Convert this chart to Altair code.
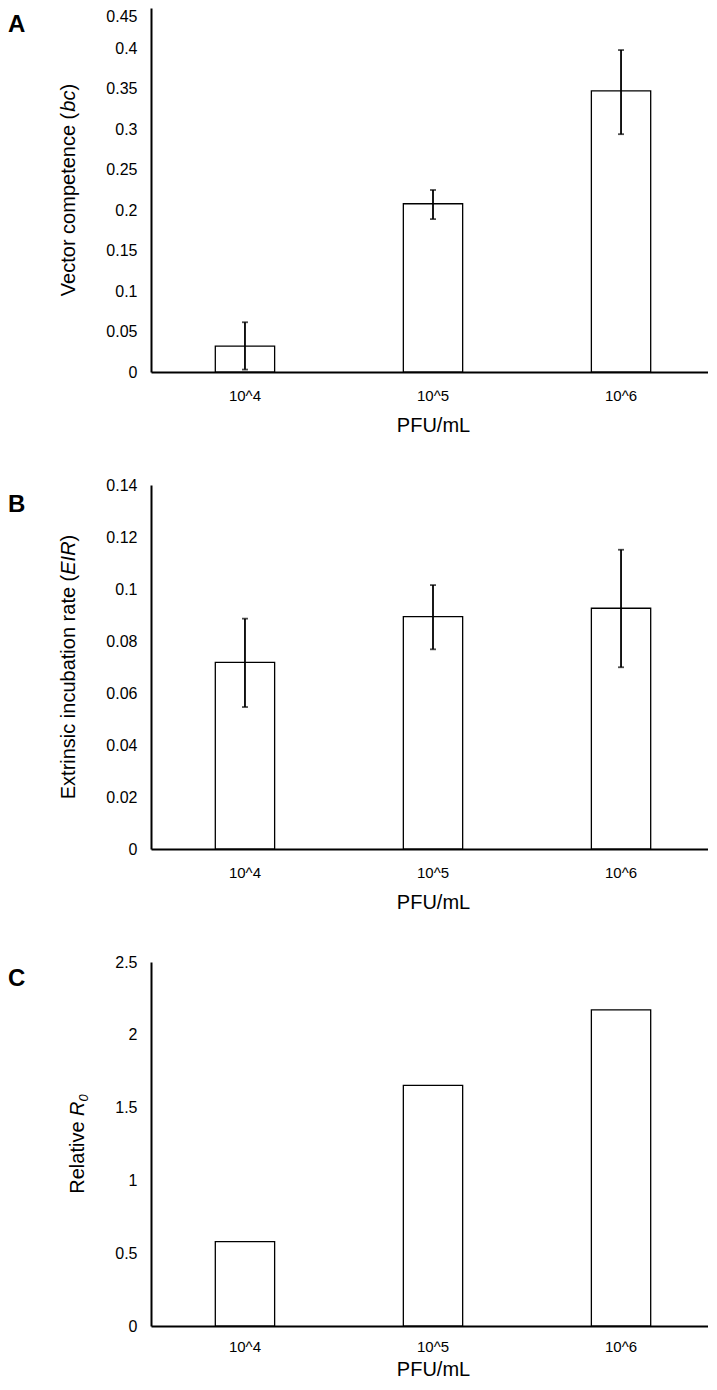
import altair as alt
import pandas as pd

panels = ["A", "B", "C"]
doses = ["10^4", "10^5", "10^6"]

vc_mean = [0.032, 0.208, 0.3475]
vc_lo = [0.003, 0.189, 0.294]
vc_hi = [0.0615, 0.225, 0.398]

eir_mean = [0.0718, 0.0894, 0.0926]
eir_lo = [0.0546, 0.0768, 0.0699]
eir_hi = [0.0886, 0.1015, 0.1151]

r0_rel = [0.579, 1.652, 2.171]

vc_ticks = [0, 0.05, 0.1, 0.15, 0.2, 0.25, 0.3, 0.35, 0.4, 0.45]
eir_ticks = [0, 0.02, 0.04, 0.06, 0.08, 0.1, 0.12, 0.14]
r0_ticks = [0, 0.5, 1, 1.5, 2, 2.5]

# y-axis titles, split into (text, italic, font size) pieces
title_a = [("Vector competence (", False, 20), ("bc", True, 20), (")", False, 20)]
title_b = [("Extrinsic incubation rate (", False, 20), ("EIR", True, 20), (")", False, 20)]
title_c = [("Relative ", False, 20), ("R", True, 20), ("0", True, 13)]
x_title = "PFU/mL"

FONT = "Liberation Sans"
W, H = 564, 364

# Arial / Liberation Sans advance widths (per 1000 em)
ADV = {"V": 667, "e": 556, "c": 500, "t": 278, "o": 556, "r": 333, " ": 278, "m": 833,
       "p": 556, "n": 556, "(": 333, ")": 333, "b": 556, "E": 667, "x": 500, "i": 222,
       "s": 500, "u": 556, "a": 556, "I": 278, "R": 722, "l": 222, "v": 500, "0": 556}


def text_width(s, size):
    return sum(ADV.get(ch, 556) for ch in s) * size / 1000.0


def ytitle_layer(pieces, base_x):
    total = sum(text_width(s, fs) for s, _, fs in pieces)
    ypos = H / 2 + total / 2
    layers = []
    for s, ital, fs in pieces:
        bx = base_x
        if fs < 20:
            bx = base_x + 4  # subscript drops below the baseline
        t = alt.Chart(pd.DataFrame({"t": [s]})).mark_text(
            align="left", baseline="alphabetic", angle=270, fontSize=fs,
            fontStyle="italic" if ital else "normal", font=FONT, color="black"
        ).encode(text="t:N", x=alt.value(bx), y=alt.value(ypos))
        layers.append(t)
        ypos -= text_width(s, fs)
    return layers


def panel(letter, mean, lo, hi, ticks, tpieces, title_x, letter_y, xlp, xtp, anchor=False):
    df = pd.DataFrame({"dose": doses, "mean": mean})
    if lo is not None:
        df["lo"] = lo
        df["hi"] = hi
    top = ticks[-1]
    yscale = alt.Scale(domain=[ticks[0], top], nice=False, zero=True)
    xaxis = alt.Axis(title=x_title, labelAngle=0, labelFontSize=15, labelPadding=xlp,
                     ticks=False, tickSize=0, titleFontSize=20, titlePadding=xtp,
                     titleFontWeight="normal", domainColor="black", domainWidth=2,
                     labelColor="black", titleColor="black", labelFont=FONT, titleFont=FONT,
                     grid=False)
    yaxis = alt.Axis(values=ticks, format="~g", title=None, labelFontSize=16,
                     labelPadding=14, ticks=False, tickSize=0, grid=False,
                     domainColor="black", domainWidth=2, labelColor="black",
                     labelFont=FONT,
                     labelBaseline=alt.condition(f"datum.value == {top}",
                                                 alt.value("top"), alt.value("middle"))
                     if anchor else "middle")
    scl = alt.Scale(paddingInner=0.6845, paddingOuter=0.342)
    x = alt.X("dose:N", sort=doses, scale=scl, axis=xaxis)
    base = alt.Chart(df)
    bars = base.mark_bar(fill="white", stroke="black", strokeWidth=1.3).encode(
        x=x, y=alt.Y("mean:Q", scale=yscale, axis=yaxis))
    layers = [bars]
    if lo is not None:
        rule = base.mark_rule(color="black", strokeWidth=1.8).encode(
            x=x, y=alt.Y("lo:Q", scale=yscale, axis=yaxis), y2="hi:Q")
        cap_lo = base.mark_tick(color="black", thickness=1.8, size=6).encode(
            x=x, y=alt.Y("lo:Q", scale=yscale, axis=yaxis))
        cap_hi = base.mark_tick(color="black", thickness=1.8, size=6).encode(
            x=x, y=alt.Y("hi:Q", scale=yscale, axis=yaxis))
        layers += [rule, cap_lo, cap_hi]
    layers += ytitle_layer(tpieces, title_x)
    lab = alt.Chart(pd.DataFrame({"t": [letter]})).mark_text(
        align="left", baseline="alphabetic", fontSize=24, fontWeight="bold",
        font=FONT, color="black").encode(text="t:N", x=alt.value(-143), y=alt.value(letter_y))
    layers.append(lab)
    if anchor:
        anc = alt.Chart(pd.DataFrame({"a": [0]})).mark_rule(strokeOpacity=0, strokeWidth=0).encode(
            x=alt.value(-143), x2=alt.value(-143), y=alt.value(-9), y2=alt.value(-9))
        layers.append(anc)
    return alt.layer(*layers).properties(width=W, height=H)


pA = panel(panels[0], vc_mean, vc_lo, vc_hi, vc_ticks, title_a, -76, 24, 16, 12, anchor=True)
pB = panel(panels[1], eir_mean, eir_lo, eir_hi, eir_ticks, title_b, -76, 26.5, 16, 12)
pC = panel(panels[2], r0_rel, None, None, r0_ticks, title_c, -67, 23.5, 13, 5)

chart = alt.vconcat(pA, pB, pC, spacing=113, bounds="flush").properties(
    padding={"left": 0, "top": -9, "right": -7, "bottom": -1}
).configure(font=FONT).configure_view(stroke=None)

chart.save("out.html", embed_options={"renderer": "svg", "actions": False})
